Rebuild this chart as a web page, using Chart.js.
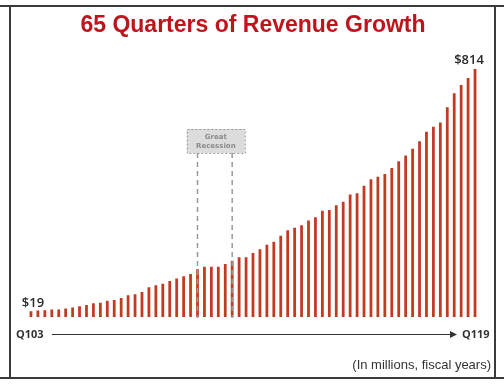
<!DOCTYPE html>
<html>
<head>
<meta charset="utf-8">
<script src="https://cdn.jsdelivr.net/npm/chart.js@4"></script>
<style>
  html, body { margin: 0; padding: 0; background: #fff; }
  #wrap { width: 504px; height: 385px; position: relative; }
</style>
</head>
<body>
<div id="wrap"><canvas id="revenueChart" width="504" height="385"></canvas></div>
<script>
// quarters Q1'03 .. Q1'19
const quarters = [];
for (let y = 3; y <= 19; y++) {
  for (let q = 1; q <= 4; q++) {
    if (y === 19 && q > 1) break;
    quarters.push('Q' + q + String(y).padStart(2, '0'));
  }
}

// quarterly revenue, $ millions
const revenue = [
  19, 21, 22, 25, 25, 28, 31, 35, 39, 45,
  47, 53, 56, 62, 71, 75, 82, 98, 104, 109,
  118, 126, 134, 141, 157, 165, 165, 165, 174, 185,
  196, 196, 210, 222, 237, 247, 267, 285, 293, 301,
  317, 327, 349, 351, 367, 378, 402, 406, 431, 452,
  460, 469, 489, 511, 530, 552, 577, 608, 624, 638,
  688, 734, 761, 784, 814
];

const endLabels = ['Q103', 'Q119'];
const recession = ['Q109', 'Q210'];
const recessionText = ['Great', 'Recession'];

const annotate = {
  id: 'annotate',
  afterDatasetsDraw(chart) {
    const c = chart.ctx;
    const bars = chart.getDatasetMeta(0).data;
    const base = chart.chartArea.bottom;
    c.save();

    // frame
    c.strokeStyle = '#3a3a3a';
    c.lineWidth = 2;
    c.beginPath();
    c.moveTo(0, 6); c.lineTo(504, 6);
    c.moveTo(0, 378); c.lineTo(504, 378);
    c.moveTo(10, 6); c.lineTo(10, 378);
    c.moveTo(495, 6); c.lineTo(495, 378);
    c.stroke();

    // title
    c.fillStyle = '#c0141c';
    c.font = 'bold 23px "Liberation Sans", Arial, sans-serif';
    c.textAlign = 'center';
    c.textBaseline = 'alphabetic';
    c.fillText('65 Quarters of Revenue Growth', 253, 32);

    // first / last value labels
    c.fillStyle = '#2a2a2a';
    c.font = '600 13px "Open Sans", sans-serif';
    const first = bars[0], last = bars[bars.length - 1];
    c.fillText('$' + revenue[0], first.x + 2, first.y - 4);
    c.fillText('$' + revenue[revenue.length - 1], last.x - 6, last.y - 5);

    // recession markers
    const i0 = quarters.indexOf(recession[0]);
    const i1 = quarters.indexOf(recession[1]);
    const x0 = bars[i0].x, x1 = bars[i1].x;
    const bx = (x0 + x1) / 2 - 28, by = 129, bw = 58, bh = 24;
    c.strokeStyle = '#9a9a9a';
    c.lineWidth = 1.5;
    c.setLineDash([5, 4]);
    c.beginPath();
    c.moveTo(x0, by + bh); c.lineTo(x0, base + 1);
    c.moveTo(x1, by + bh); c.lineTo(x1, base + 1);
    c.stroke();
    c.fillStyle = '#dcdcdc';
    c.fillRect(bx, by, bw, bh);
    c.lineWidth = 1;
    c.setLineDash([2, 2]);
    c.strokeRect(bx + 0.5, by + 0.5, bw, bh);
    c.setLineDash([]);
    c.fillStyle = '#8a8a8a';
    c.font = 'bold 7px "DejaVu Sans", sans-serif';
    c.fillText(recessionText[0], bx + bw / 2, by + 10);
    c.fillText(recessionText[1], bx + bw / 2, by + 19);

    // time arrow
    c.strokeStyle = '#333';
    c.fillStyle = '#333';
    c.lineWidth = 1;
    c.beginPath();
    c.moveTo(52, 334.5); c.lineTo(454, 334.5);
    c.stroke();
    c.beginPath();
    c.moveTo(457, 334.5); c.lineTo(450, 331); c.lineTo(450, 338); c.closePath();
    c.fill();
    c.font = 'bold 11px "Open Sans", sans-serif';
    c.textBaseline = 'middle';
    c.textAlign = 'left';
    c.fillText(endLabels[0], 16, 335);
    c.fillText(endLabels[1], 462, 335);

    // note
    c.font = '13px "Liberation Sans", Arial, sans-serif';
    c.textAlign = 'right';
    c.fillStyle = '#333';
    c.fillText('(In millions, fiscal years)', 491, 365);

    c.restore();
  }
};

new Chart(document.getElementById('revenueChart'), {
  type: 'bar',
  data: {
    labels: quarters,
    datasets: [{
      data: revenue,
      backgroundColor: '#c23a22',
      barPercentage: 0.4,
      categoryPercentage: 1
    }]
  },
  options: {
    responsive: false,
    animation: false,
    layout: { padding: { left: 27.5, right: 25.5, top: 58, bottom: 68 } },
    scales: {
      x: { display: false },
      y: { display: false, min: 0, max: 850 }
    },
    plugins: {
      legend: { display: false },
      tooltip: { enabled: false }
    }
  },
  plugins: [annotate]
});
</script>
</body>
</html>
